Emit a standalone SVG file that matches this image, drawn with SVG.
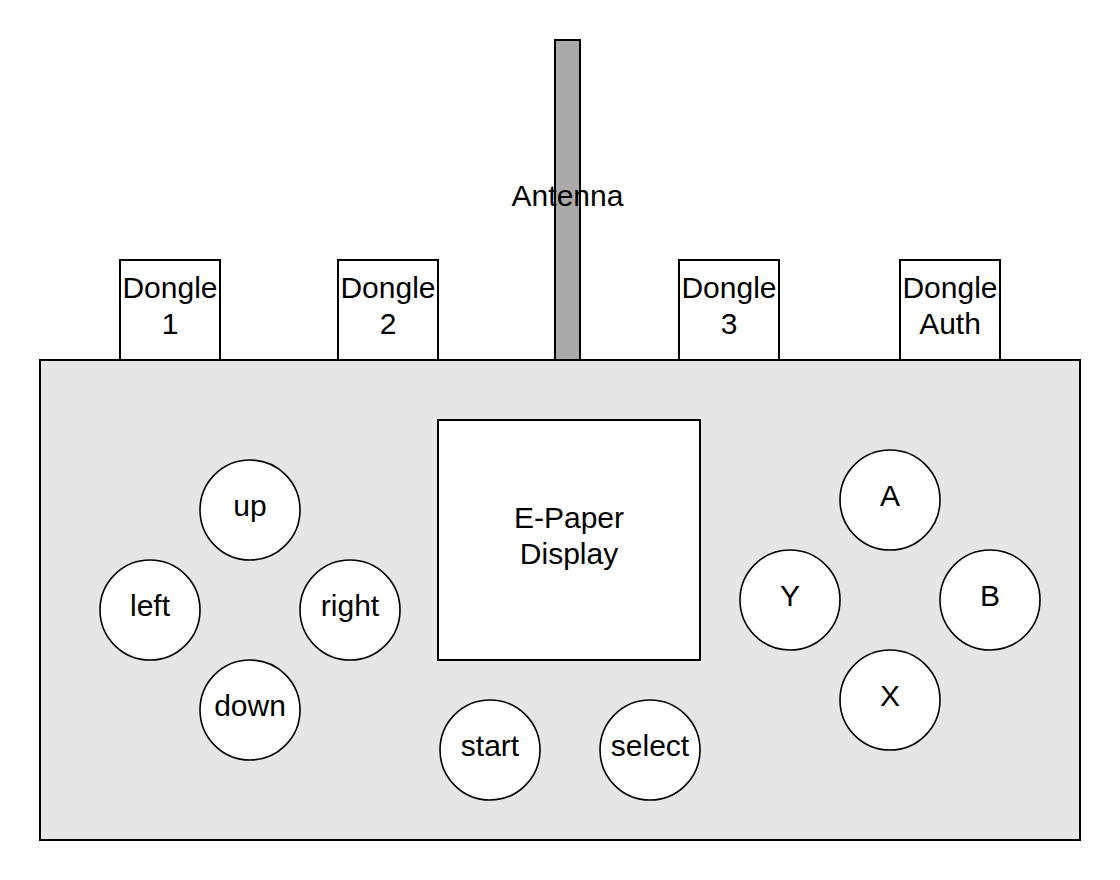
<svg xmlns="http://www.w3.org/2000/svg" width="1120" height="880" viewBox="0 0 1120 880">
<style>
  text { font-family: "Liberation Sans", Arial, sans-serif; font-size: 30px; fill: #000; text-anchor: middle; }
  .box { fill: #fff; stroke: #000; stroke-width: 2; }
  .btn { fill: #fff; stroke: #000; stroke-width: 1.6; }
  .body { fill: #e6e6e6; stroke: #000; stroke-width: 2; }
  .ant { fill: #aaaaaa; stroke: #000; stroke-width: 2; }
</style>
<rect width="1120" height="880" fill="#fff"/>
<g id="body"><rect class="body" x="40" y="360" width="1040" height="480"/></g>
<g id="dongle1"><rect class="box" x="120" y="260" width="100" height="100"/><text x="170" y="298">Dongle</text><text x="170" y="334">1</text></g>
<g id="dongle2"><rect class="box" x="338" y="260" width="100" height="100"/><text x="388" y="298">Dongle</text><text x="388" y="334">2</text></g>
<g id="dongle3"><rect class="box" x="679" y="260" width="100" height="100"/><text x="729" y="298">Dongle</text><text x="729" y="334">3</text></g>
<g id="dongleAuth"><rect class="box" x="900" y="260" width="100" height="100"/><text x="950" y="298">Dongle</text><text x="950" y="334">Auth</text></g>
<g id="antenna"><rect class="ant" x="555" y="40" width="25" height="320"/><text x="567.5" y="206">Antenna</text></g>
<g id="display"><rect class="box" x="438" y="420" width="262" height="240"/><text x="569" y="528">E-Paper</text><text x="569" y="564">Display</text></g>
<g id="up"><circle class="btn" cx="250" cy="510" r="50"/><text x="250" y="516">up</text></g>
<g id="left"><circle class="btn" cx="150" cy="610" r="50"/><text x="150" y="616">left</text></g>
<g id="right"><circle class="btn" cx="350" cy="610" r="50"/><text x="350" y="616">right</text></g>
<g id="down"><circle class="btn" cx="250" cy="710" r="50"/><text x="250" y="716">down</text></g>
<g id="start"><circle class="btn" cx="490" cy="750" r="50"/><text x="490" y="756">start</text></g>
<g id="select"><circle class="btn" cx="650" cy="750" r="50"/><text x="650" y="756">select</text></g>
<g id="A"><circle class="btn" cx="890" cy="500" r="50"/><text x="890" y="506">A</text></g>
<g id="Y"><circle class="btn" cx="790" cy="600" r="50"/><text x="790" y="606">Y</text></g>
<g id="B"><circle class="btn" cx="990" cy="600" r="50"/><text x="990" y="606">B</text></g>
<g id="X"><circle class="btn" cx="890" cy="700" r="50"/><text x="890" y="706">X</text></g>
</svg>
